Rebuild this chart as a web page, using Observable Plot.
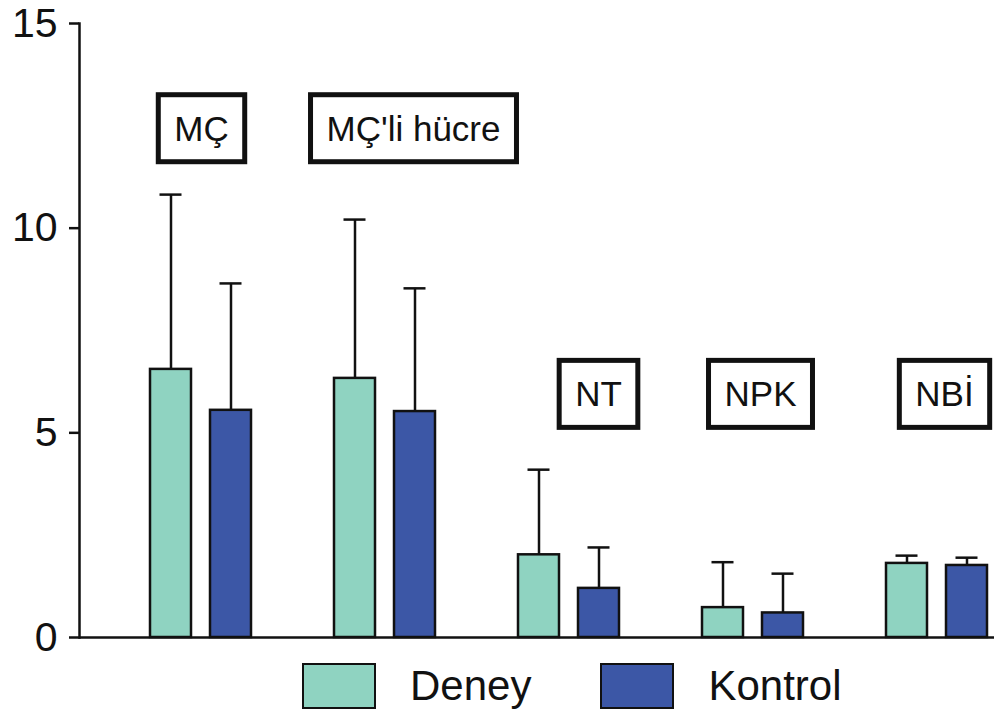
<!DOCTYPE html>
<html><head><meta charset="utf-8">
<script src="https://cdn.jsdelivr.net/npm/d3@7"></script>
<script src="https://cdn.jsdelivr.net/npm/@observablehq/plot@0.6"></script>
<style>
body{margin:0;background:#fff;font-family:"Liberation Sans",Arial,sans-serif}
#legend{display:flex;align-items:center;padding-left:302px;margin-top:2px;font-size:42px;color:#111}
#legend .sw{width:74px;height:46px;box-sizing:border-box;border:2.5px solid #111}
#legend .lb{margin-left:34px}
</style>
</head><body><div id="chart"></div><div id="legend"></div><script>
const groups = ["MÇ", "MÇ'li hücre", "NT", "NPK", "NBİ"];
const series = ["Deney", "Kontrol"];
const deney = [6.55, 6.33, 2.02, 0.73, 1.81];
const deneyErr = [10.82, 10.21, 4.10, 1.84, 2.00];
const kontrol = [5.55, 5.52, 1.20, 0.60, 1.76];
const kontrolErr = [8.65, 8.53, 2.20, 1.56, 1.95];
const labelY = [12.41, 12.41, 5.92, 5.92, 5.92];
const yTicks = [0, 5, 10, 15];
const colors = ["#8fd3c1", "#3c57a6"];

const rows = groups.flatMap((g, i) => [
  {group: g, series: "Deney", value: deney[i], err: deneyErr[i]},
  {group: g, series: "Kontrol", value: kontrol[i], err: kontrolErr[i]}
]);
const labelRows = groups.map((g, i) => ({group: g, label: g, y: labelY[i]}));
const labelDx = [30, 58, 59, 37, 37];
const ink = "#111";

const plot = Plot.plot({
  width: 994, height: 660,
  marginLeft: 78, marginRight: -5, marginTop: 23, marginBottom: 23,
  style: {fontFamily: "Liberation Sans, Arial, sans-serif", background: "white"},
  fx: {domain: groups, padding: 0, axis: null},
  x: {domain: series, paddingInner: 0.311, paddingOuter: 0.666, align: 0.862, axis: null},
  y: {domain: [0, 15], axis: null},
  color: {domain: series, range: colors},
  marks: [
    Plot.ruleX(rows, {fx: "group", x: "series", y1: "value", y2: "err", stroke: ink, strokeWidth: 2.5}),
    Plot.tickY(rows, {fx: "group", x: "series", y: "err", insetLeft: 9.5, insetRight: 9.5, stroke: ink, strokeWidth: 2.5}),
    Plot.barY(rows, {fx: "group", x: "series", y: "value", fill: "series", stroke: ink, strokeWidth: 2.5}),
    Plot.ruleY([0], {stroke: ink, strokeWidth: 2.5}),
    Plot.frame({anchor: "left", facetAnchor: "left", stroke: ink, strokeWidth: 2.5}),
    Plot.axisY({ticks: yTicks, tickSize: 10, tickPadding: 12, fontSize: 41, stroke: ink, fill: ink, strokeWidth: 2.5, label: null}),
    ...labelRows.map((d, i) => Plot.text([d], {fx: "group", y: "y", text: "label", dx: labelDx[i], fontSize: 35, fill: ink}))
  ]
});
document.getElementById("chart").appendChild(plot);

// draw boxes around the group labels
const groupSet = new Set(groups);
const labelTexts = Array.from(plot.querySelectorAll("text")).filter(t => groupSet.has(t.textContent.trim()));
labelTexts.forEach(t => {
  const bb = t.getBBox();
  const padX = 16, padY = 14;
  const r = document.createElementNS("http://www.w3.org/2000/svg", "rect");
  r.setAttribute("x", bb.x - padX);
  r.setAttribute("y", bb.y - padY);
  r.setAttribute("width", bb.width + 2 * padX);
  r.setAttribute("height", bb.height + 2 * padY);
  r.setAttribute("fill", "white");
  r.setAttribute("stroke", ink);
  r.setAttribute("stroke-width", 5);
  const tr = t.getAttribute("transform");
  if (tr) r.setAttribute("transform", tr);
  t.parentNode.insertBefore(r, t);
});

// legend
const cs = plot.scale("color");
const leg = document.getElementById("legend");
cs.domain.forEach((s, i) => {
  const sw = document.createElement("div");
  sw.className = "sw";
  sw.style.background = cs.range[i];
  if (i > 0) sw.style.marginLeft = "69px";
  const lb = document.createElement("span");
  lb.className = "lb";
  lb.textContent = s;
  leg.appendChild(sw); leg.appendChild(lb);
});
</script></body></html>
